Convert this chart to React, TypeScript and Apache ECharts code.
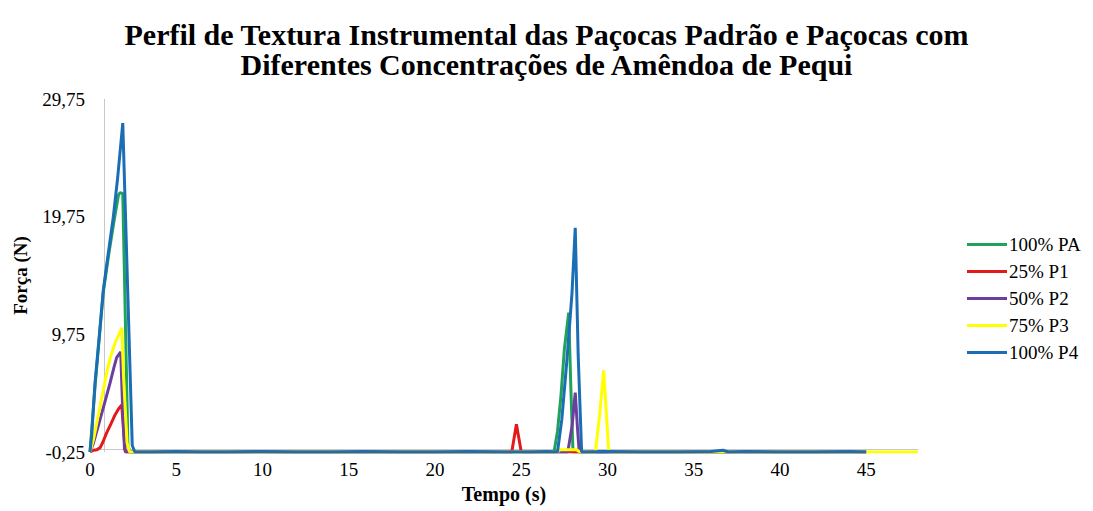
import React, { useEffect, useRef } from "react";
import * as echarts from "echarts";

const TITLE = "Perfil de Textura Instrumental das Paçocas Padrão e Paçocas com\nDiferentes Concentrações de Amêndoa de Pequi";
const X_NAME = "Tempo (s)";
const Y_NAME = "Força (N)";
const Y_TICKS = [-0.25, 9.75, 19.75, 29.75];
const X_MIN = 0;
const X_MAX = 48;
const Y_AXIS_CROSS = 0.82;

const SERIES_NAMES = ["100% PA", "25% P1", "50% P2", "75% P3", "100% P4"];
const COLORS = ["#1fa25a", "#e31a1c", "#6b3fa0", "#ffff00", "#1b6db4"];

// 100% PA
const tPA = [0, 0.29, 0.77, 1.05, 1.35, 1.65, 1.75, 1.9, 2.05, 2.2, 2.35, 5, 10, 15, 20, 25, 26.9, 27.1, 27.3, 27.5, 27.75, 27.88, 28.0, 30, 35, 40, 45];
const vPA = [-0.25, 5.3, 13.3, 16.2, 19.0, 21.6, 21.8, 21.7, 11, 0.2, -0.25, -0.25, -0.25, -0.25, -0.25, -0.25, -0.25, 1.5, 4.5, 8.5, 11.6, 5, -0.25, -0.25, -0.25, -0.25, -0.25];

// 25% P1
const tP1 = [0, 0.2, 0.4, 0.58, 0.75, 0.97, 1.2, 1.45, 1.65, 1.84, 1.95, 2.05, 5, 10, 15, 20, 24.45, 24.72, 25.0, 30, 35, 40, 45];
const vP1 = [-0.25, -0.1, -0.05, 0.1, 0.6, 1.4, 2.1, 2.9, 3.4, 3.74, 1.5, -0.25, -0.25, -0.25, -0.25, -0.25, -0.25, 2.1, -0.25, -0.25, -0.25, -0.25, -0.25];

// 50% P2
const tP2 = [0, 0.2, 0.58, 0.9, 1.16, 1.4, 1.55, 1.78, 1.88, 2.0, 2.1, 5, 10, 15, 20, 25, 27.7, 27.95, 28.13, 28.25, 28.36, 30, 35, 40, 45];
const vP2 = [-0.25, 0.5, 2.5, 4.2, 5.6, 7.0, 7.8, 8.25, 4, 0, -0.25, -0.25, -0.25, -0.25, -0.25, -0.25, -0.25, 2, 4.8, 2, -0.25, -0.25, -0.25, -0.25, -0.25];

// 75% P3
const tP3 = [0, 0.2, 0.39, 0.7, 0.97, 1.2, 1.45, 1.7, 1.84, 1.95, 2.15, 2.3, 5, 10, 15, 20, 25, 27.1, 27.25, 28.2, 28.4, 29.3, 29.55, 29.78, 30.07, 35, 40, 45, 48];
const vP3 = [-0.25, 0.8, 2.2, 4.5, 6.5, 7.9, 9.0, 9.8, 10.3, 6, 0.5, -0.25, -0.25, -0.25, -0.25, -0.25, -0.25, -0.25, -0.05, -0.05, -0.25, -0.25, 3, 6.7, -0.25, -0.25, -0.25, -0.25, -0.25];

// 100% P4
const tP4 = [0, 0.1, 0.29, 0.5, 0.77, 1.0, 1.35, 1.6, 1.9, 2.45, 2.6, 3.5, 5, 6.5, 8, 10, 12, 14, 16, 18, 20, 22, 24, 25.5, 26.5, 27.1, 27.35, 27.65, 27.94, 28.13, 28.3, 28.5, 28.8, 30, 32, 34, 36, 36.7, 37, 38, 40, 42, 44, 45];
const vP4 = [-0.25, 1.2, 5.6, 9.0, 13.5, 16.0, 19.7, 23.0, 27.7, 0.3, -0.25, -0.25, -0.2, -0.25, -0.25, -0.2, -0.25, -0.25, -0.2, -0.25, -0.25, -0.2, -0.25, -0.25, -0.2, -0.25, 2.5, 7.6, 13.2, 18.8, 8, -0.25, -0.25, -0.2, -0.25, -0.25, -0.2, -0.1, -0.25, -0.2, -0.25, -0.25, -0.2, -0.25];

const T_ARRAYS = [tPA, tP1, tP2, tP3, tP4];
const V_ARRAYS = [vPA, vP1, vP2, vP3, vP4];

const FONT = "Liberation Serif";

export default function App() {
  const ref = useRef<HTMLDivElement>(null);
  useEffect(() => {
    if (!ref.current) return;
    const chart = echarts.init(ref.current, undefined, { renderer: "svg" });
    const fmt = (v: number) => v.toFixed(2).replace(".", ",");
    const series: any[] = SERIES_NAMES.map((name, i) => ({
      name,
      type: "line",
      data: T_ARRAYS[i].map((t, j) => [t, V_ARRAYS[i][j]]),
      symbol: "none",
      smooth: false,
      lineStyle: { color: COLORS[i], width: 3 },
      itemStyle: { color: COLORS[i] },
      z: 3 + i,
    }));
    series[0].markLine = {
      silent: true,
      symbol: "none",
      label: { show: false },
      lineStyle: { color: "#c8c8c8", width: 1, type: "solid" },
      data: [{ xAxis: Y_AXIS_CROSS }],
      z: 1,
    };
    chart.setOption({
      animation: false,
      backgroundColor: "#ffffff",
      textStyle: { fontFamily: FONT },
      title: {
        text: TITLE,
        left: "center",
        top: 14,
        textStyle: {
          fontFamily: FONT,
          fontSize: 30,
          fontWeight: "bold",
          color: "#000",
          lineHeight: 30,
        },
      },
      grid: { left: 90, right: 175, top: 99, bottom: 59 },
      legend: {
        orient: "vertical",
        left: 962,
        top: 230,
        icon: "rect",
        itemWidth: 40,
        itemHeight: 3,
        itemGap: 8,
        data: SERIES_NAMES,
        textStyle: { fontFamily: FONT, fontSize: 19, color: "#000", padding: [0, 0, 0, -3] },
      },
      xAxis: {
        type: "value",
        min: X_MIN,
        max: X_MAX,
        interval: 5,
        name: X_NAME,
        nameLocation: "middle",
        nameGap: 30,
        nameTextStyle: { fontFamily: FONT, fontSize: 20, fontWeight: "bold", color: "#000" },
        axisLine: { show: true, lineStyle: { color: "#c8c8c8", width: 1 } },
        axisTick: { show: false },
        splitLine: { show: false },
        axisLabel: {
          showMaxLabel: false,
          fontFamily: FONT,
          fontSize: 19,
          color: "#000",
          margin: 8,
        },
      },
      yAxis: {
        type: "value",
        min: Y_TICKS[0],
        max: Y_TICKS[Y_TICKS.length - 1],
        name: Y_NAME,
        nameLocation: "middle",
        nameGap: 60,
        nameRotate: 90,
        nameTextStyle: { fontFamily: FONT, fontSize: 19, fontWeight: "bold", color: "#000" },
        axisLine: { show: false },
        axisTick: { show: false },
        splitLine: { show: false },
        axisLabel: {
          customValues: Y_TICKS,
          formatter: (v: number) => fmt(v),
          fontFamily: FONT,
          fontSize: 19,
          color: "#000",
          margin: 5,
        },
      },
      series,
    });
    return () => chart.dispose();
  }, []);
  return (
    <div
      ref={ref}
      style={{ position: "absolute", left: 0, top: 0, width: 1093, height: 511 }}
    />
  );
}
